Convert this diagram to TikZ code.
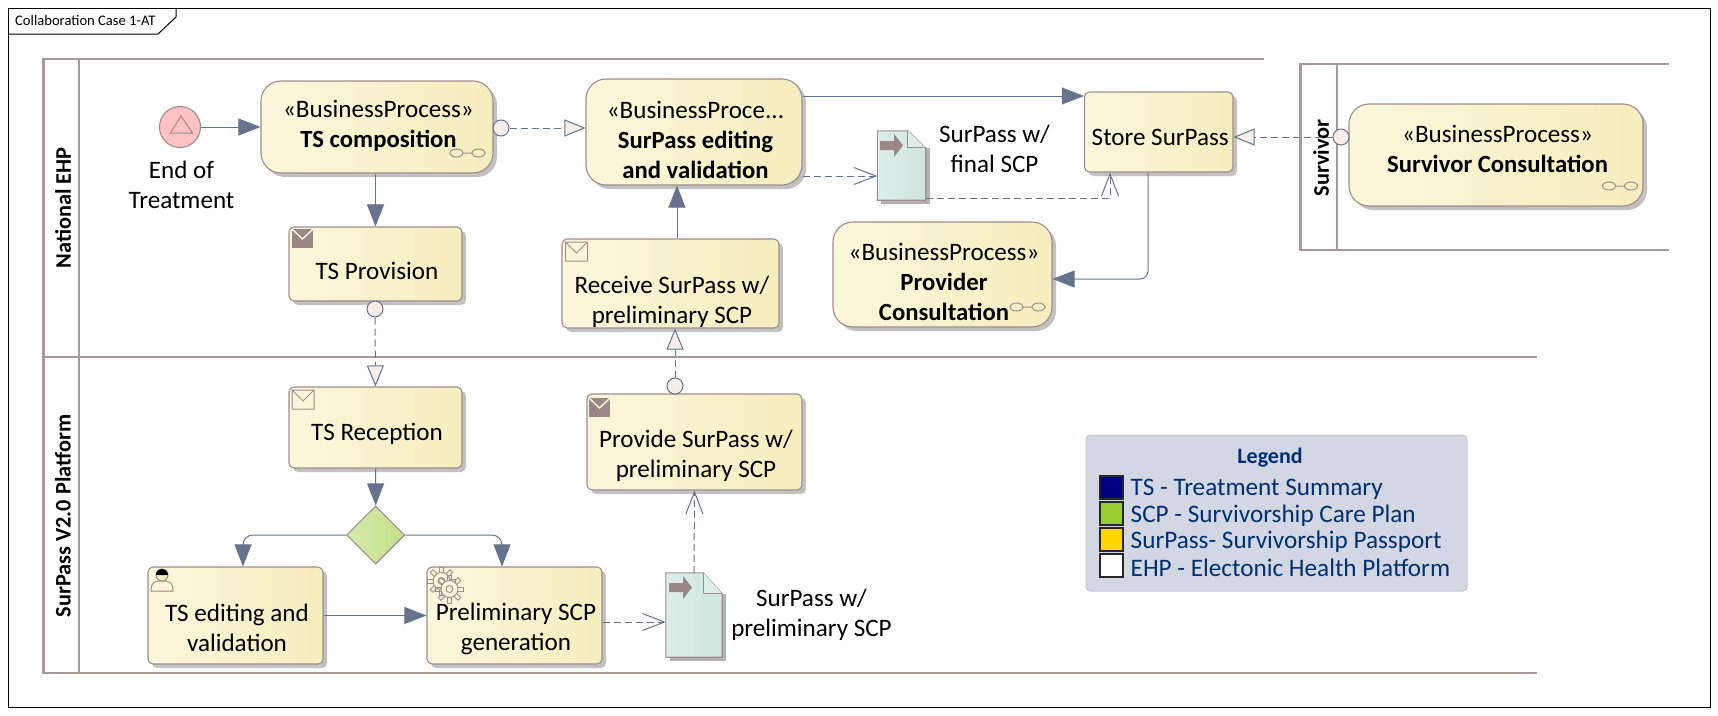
\documentclass[tikz,border=0pt]{standalone}
\usepackage{fontspec}
\setmainfont{Carlito}
\usetikzlibrary{arrows.meta,shadows,shapes.geometric}

\definecolor{flowline}{HTML}{67728C}
\definecolor{boxline}{HTML}{A08C8C}
\definecolor{poolline}{HTML}{A79A9A}
\definecolor{iconfill}{HTML}{9C8787}
\definecolor{legendtext}{HTML}{00306E}
\definecolor{legendNavy}{HTML}{000080}
\definecolor{legendGreen}{HTML}{9ACD32}
\definecolor{legendGold}{HTML}{FFD700}
\definecolor{legendback}{HTML}{D2D7E3}
\definecolor{legendedge}{HTML}{C3C8D6}
\definecolor{boxleft}{HTML}{FBF7DC}
\definecolor{boxright}{HTML}{F5EEBE}
\definecolor{portfill}{HTML}{F7EEEA}
\definecolor{docleft}{HTML}{DCEFEA}
\definecolor{docright}{HTML}{CDE6DE}
\definecolor{eventfill}{HTML}{FFC2C2}

\newcommand{\procname}[1]{{\fontsize{24.7}{30}\selectfont\bfseries #1}}

\tikzset{
    softshadow/.style={drop shadow={shadow xshift=4pt,shadow yshift=-4pt,fill=black!40,opacity=.6}},
    taskbox/.style={draw=boxline, line width=1.1pt, left color=boxleft, right color=boxright, inner sep=0pt, softshadow},
    roundbox/.style={taskbox, rounded corners=5pt},
    procbox/.style={taskbox, rounded corners=20pt},
    boxtext/.style={font=\fontsize{25.1}{30}\selectfont, align=center, inner sep=0pt, xshift=1.5pt},
    poollabel/.style={font=\fontsize{22.3}{26}\selectfont\bfseries, rotate=90, inner sep=0pt},
    poolrule/.style={draw=poolline, line width=2.2pt},
    seqflow/.style={draw=flowline, line width=1pt, -{Triangle[length=22pt,width=17pt]}},
    msgflow/.style={draw=flowline, line width=1pt, dash pattern=on 7pt off 4pt, -{Triangle[open,length=21pt,width=17pt,fill=portfill]}},
    dataflow/.style={draw=flowline, line width=1pt, dash pattern=on 7pt off 4pt, -{Straight Barb[length=22pt,width=17pt]}},
    portdot/.style={circle, draw=flowline, line width=1pt, fill=portfill, minimum size=16pt, inner sep=0pt},
    linkglyph/.pic={
        \draw[boxline, line width=1pt] (-11,0) ellipse [x radius=6.5pt, y radius=4pt]
            (11,0) ellipse [x radius=6.5pt, y radius=4pt] (-4.5,0) -- (4.5,0);
    },
    mailfilled/.pic={
        \fill[iconfill] (0,0) rectangle (21,19);
        \draw[white!90!yellow, line width=1.3pt] (0,0) -- (10.5,10) -- (21,0);
    },
    mailopen/.pic={
        \draw[boxline, line width=1pt] (0,0) rectangle (22,19) (0,0) -- (11,11) -- (22,0);
    },
    docarrow/.pic={
        \fill[iconfill] (0,-4.5) -- (14,-4.5) -- (14,-11.5) -- (23,0) -- (14,11.5) -- (14,4.5) -- (0,4.5) -- cycle;
    },
    gearwheel/.pic={
        \foreach \ang in {0,45,...,315}
            \draw[boxline, line width=.9pt, rotate=\ang] (8,-2) rectangle (14,2);
        \draw[boxline, line width=.9pt, fill=boxright!60] (0,0) circle (8.5pt);
        \draw[boxline, line width=.9pt] (0,0) circle (3.5pt);
    },
}

% sheet drawn on top of a named (empty) node: name, fold width, fold height
\newcommand{\docsheet}[3]{
    \fill[black!30] ([shift={(4pt,-4pt)}]#1.south west) rectangle ([shift={(4pt,-#3pt)}]#1.east |- #1.north);
    \draw[boxline, line width=1.1pt, left color=docleft, right color=docright]
        (#1.north west) -- ([xshift=-#2pt]#1.north east) -- ([yshift=-#3pt]#1.north east) -- (#1.south east) -- (#1.south west) -- cycle;
    \draw[boxline, line width=1.1pt, fill=docleft] ([xshift=-#2pt]#1.north east) -- ([shift={(-#2pt,-#3pt)}]#1.north east) -- ([yshift=-#3pt]#1.north east);
}

\begin{document}
\begin{tikzpicture}[x=1pt,y=-1pt]
    \useasboundingbox (0,0) rectangle (1718,715);

    % frame and its tab
    \draw[black, line width=1pt] (8.5,8.5) rectangle (1710,707.5);
    \draw[black, line width=1pt] (8.5,34) -- (158,34) -- (176,17) -- (176,8.5);
    \node[font=\fontsize{14.6}{18}\selectfont, anchor=west, inner sep=0pt] (frameTitle) at (15,20.5) {Collaboration Case 1-AT};

    % pools
    \draw[poolrule] (1264,59) -- (43.5,59) -- (43.5,673) -- (1537,673);
    \draw[poolrule] (43.5,357) -- (1537,357);
    \draw[poolrule] (79,59) -- (79,673);
    \node[poollabel] (poolEHP) at (63,208) {National EHP};
    \node[poollabel] (poolPlatform) at (63,516) {SurPass V2.0 Platform};
    \draw[poolrule] (1669,64) -- (1300.5,64) -- (1300.5,250) -- (1669,250);
    \draw[poolrule] (1337,64) -- (1337,250);
    \node[poollabel] (poolSurvivor) at (1321,158) {Survivor};

    % start of the flow
    \node[circle, draw=boxline, line width=1.1pt, fill=eventfill, minimum size=41pt, inner sep=0pt] (endEvent) at (180,127) {};
    \draw[boxline, line width=1pt] (181,116) -- (192.5,133) -- (170.5,133) -- cycle;
    \node[boxtext] (endLabel) at (180,185) {End of\\Treatment};

    % business processes
    \node[procbox, minimum width=232pt, minimum height=92pt, label={[boxtext,yshift=1pt]center:{«BusinessProcess»\\\procname{TS composition}}}] (tsComposition) at (377,127) {};
    \node[procbox, minimum width=216pt, minimum height=106pt, label={[boxtext,yshift=-8pt]center:{«BusinessProce...\\\procname{SurPass editing}\\\procname{and validation}}}] (surPassEditing) at (694,132) {};
    \node[procbox, minimum width=219pt, minimum height=105pt, label={[boxtext,yshift=-7.5pt]center:{«BusinessProcess»\\\procname{Provider}\\\procname{Consultation}}}] (providerConsult) at (942.5,274.5) {};
    \node[procbox, minimum width=294pt, minimum height=102pt, label={[boxtext,yshift=6pt]center:{«BusinessProcess»\\\procname{Survivor Consultation}}}] (survivorConsult) at (1496,155) {};
    \pic at (467.5,153) {linkglyph};
    \pic at (1027.5,307) {linkglyph};
    \pic at (1620,186) {linkglyph};

    % tasks
    \node[roundbox, minimum width=173pt, minimum height=74pt, label={[boxtext,yshift=-7pt]center:{TS Provision}}] (tsProvision) at (375.5,264) {};
    \node[roundbox, minimum width=217pt, minimum height=89pt, label={[boxtext,yshift=-18pt]center:{Receive SurPass w/\\preliminary SCP}}] (receiveSurPass) at (670.5,283.5) {};
    \node[roundbox, minimum width=148.5pt, minimum height=80pt, label={[boxtext,yshift=-5pt]center:{Store SurPass}}] (storeSurPass) at (1158.75,132) {};
    \node[roundbox, minimum width=173pt, minimum height=81pt, label={[boxtext,yshift=-6pt]center:{TS Reception}}] (tsReception) at (375.5,427.5) {};
    \node[roundbox, minimum width=215pt, minimum height=96pt, label={[boxtext,yshift=-14pt]center:{Provide SurPass w/\\preliminary SCP}}] (provideSurPass) at (694.5,442) {};
    \node[roundbox, minimum width=175pt, minimum height=97pt, label={[boxtext,yshift=-12pt]center:{TS editing and\\validation}}] (tsEditing) at (235.5,615.5) {};
    \node[roundbox, minimum width=175pt, minimum height=97pt, label={[boxtext,yshift=-13.5pt]center:{Preliminary SCP\\generation}}] (prelimSCP) at (514.5,615.5) {};
    \node[diamond, draw=boxline, line width=1.1pt, left color=legendGreen!40!white, right color=legendGreen!60!white, minimum width=58pt, minimum height=58pt, inner sep=0pt] (gateway) at (375.7,535) {};

    % task markers
    \pic at (292,229) {mailfilled};
    \pic at (292,390) {mailopen};
    \pic at (565.5,242) {mailopen};
    \pic at (589,398) {mailfilled};
    \draw[boxline, line width=1pt] (151,591) .. controls (151,583) and (154,582) .. (158,581) -- (166,581) .. controls (170,582) and (173,583) .. (173,591) -- cycle;
    \draw[boxline, line width=1pt, fill=boxright] (162,575) circle (6pt);
    \fill[black] (156,575) arc (180:0:6pt) -- cycle;
    \pic at (441.5,581) {gearwheel};
    \pic at (449.5,589) {gearwheel};

    % data objects
    \node[minimum width=48pt, minimum height=69pt, inner sep=0pt] (docFinal) at (901.5,165.5) {};
    \docsheet{docFinal}{18}{17}
    \pic at (880,145.5) {docarrow};
    \node[boxtext] (docFinalLabel) at (993,149) {SurPass w/\\final SCP};
    \node[minimum width=56pt, minimum height=84pt, inner sep=0pt] (docPrelim) at (694,615) {};
    \docsheet{docPrelim}{19}{21}
    \pic at (669,587.5) {docarrow};
    \node[boxtext] (docPrelimLabel) at (810,615) {SurPass w/\\preliminary SCP};

    % ports
    \node[portdot] (portComposition) at (501,128) {};
    \node[portdot] (portProvision) at (375,309) {};
    \node[portdot] (portProvide) at (675,386) {};
    \node[portdot] (portSurvivor) at (1341,137) {};

    % sequence flows
    \draw[seqflow] (endEvent.east) -- (tsComposition.west);
    \draw[seqflow] (tsProvision.north |- tsComposition.south) -- (tsProvision.north);
    \draw[seqflow] ([xshift=6.5pt]receiveSurPass.north) -- ([xshift=-17pt]surPassEditing.south);
    \draw[seqflow] ([yshift=36pt]surPassEditing.east) -- ([yshift=36pt]storeSurPass.west);
    \draw[seqflow, rounded corners=8pt] ([xshift=-10.75pt]storeSurPass.south) |- ([yshift=-4.5pt]providerConsult.east);
    \draw[seqflow] (tsReception.south) -- (gateway.north);
    \draw[seqflow, rounded corners=10pt] (gateway.west) -| ([xshift=7.5pt]tsEditing.north);
    \draw[seqflow, rounded corners=10pt] (gateway.east) -| ([xshift=-12.5pt]prelimSCP.north);
    \draw[seqflow] (tsEditing.east) -- (prelimSCP.west);

    % message flows
    \draw[msgflow] (portComposition.east) -- (surPassEditing.west |- portComposition);
    \draw[msgflow] (portProvision.south) -- (tsReception.north);
    \draw[msgflow] (portProvide.north) -- (receiveSurPass.south -| portProvide);
    \draw[msgflow] (portSurvivor.west) -- (storeSurPass.east |- portSurvivor);

    % data associations
    \draw[dataflow] ([yshift=-44pt]surPassEditing.east) -- ([yshift=-10.5pt]docFinal.west);
    \draw[dataflow] ([yshift=-32.5pt]docFinal.east) -| ([xshift=-48.75pt]storeSurPass.south);
    \draw[dataflow] ([yshift=-6.5pt]prelimSCP.east) -- ([yshift=-7pt]docPrelim.west);
    \draw[dataflow] (docPrelim.north) -- (provideSurPass.south);

    % legend
    \node[rectangle, rounded corners=4pt, draw=legendedge, line width=1pt, fill=legendback, minimum width=381pt, minimum height=156pt, inner sep=0pt] (legendBox) at (1276.5,513) {};
    \node[font=\fontsize{22}{26}\selectfont\bfseries, text=legendtext, inner sep=0pt] (legendTitle) at (1270,458) {Legend};
    \foreach \i/\yy/\cc/\ttl in {1/487.5/legendNavy/TS - Treatment Summary,
        2/513.5/legendGreen/SCP - Survivorship Care Plan,
        3/539.5/legendGold/SurPass- Survivorship Passport,
        4/565.5/white/EHP - Electonic Health Platform} {
        \node[draw=black!85, line width=1.1pt, fill=\cc, minimum size=23pt, inner sep=0pt] (swatch\i) at (1111.5,\yy) {};
        \node[font=\fontsize{25.2}{28}\selectfont, text=legendtext, anchor=west, inner sep=0pt, yshift=-2pt] (legendItem\i) at (1130.5,\yy) {\ttl};
    }
\end{tikzpicture}
\end{document}
